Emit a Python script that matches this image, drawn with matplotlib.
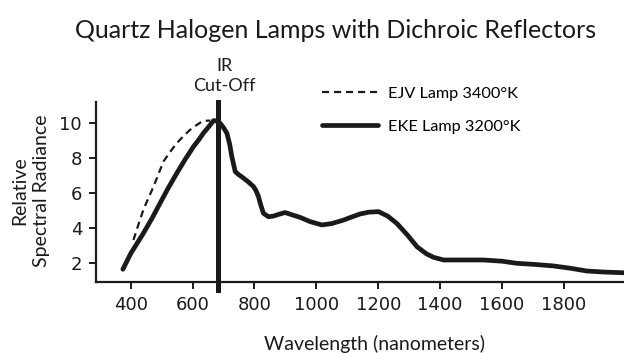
import matplotlib
matplotlib.use("Agg")
import matplotlib.pyplot as plt

plt.rcParams['font.family'] = ['Lato', 'DejaVu Sans']

# Spectral radiance curves (wavelength in nm, relative radiance)
eke_nm = [375, 400, 441, 470, 495, 520, 549, 575, 603, 620, 635, 657, 668, 680, 689,
          700, 711, 720, 727, 738, 750, 765, 780, 797, 805, 813, 820, 829, 845, 862,
          883, 899, 916, 948, 980, 1018, 1050, 1088, 1115, 1142, 1170, 1201, 1230,
          1260, 1295, 1325, 1355, 1379, 1411, 1480, 1540, 1600, 1648, 1710, 1766,
          1820, 1874, 1930, 1995]
eke_val = [1.66, 2.55, 3.71, 4.6, 5.43, 6.25, 7.14, 7.9, 8.66, 9.05, 9.43, 9.9, 10.15,
           10.12, 10.0, 9.75, 9.43, 8.8, 8.09, 7.23, 7.05, 6.86, 6.65, 6.38, 6.15,
           5.81, 5.35, 4.86, 4.66, 4.7, 4.82, 4.9, 4.8, 4.62, 4.38, 4.19, 4.27, 4.47,
           4.65, 4.82, 4.92, 4.95, 4.7, 4.28, 3.6, 2.95, 2.55, 2.34, 2.19, 2.19,
           2.19, 2.12, 2.0, 1.93, 1.85, 1.72, 1.56, 1.5, 1.46]

ejv_nm = [409, 425, 441, 458, 474, 490, 506, 527, 549, 570, 592, 612, 630, 645, 657]
ejv_val = [3.33, 4.2, 5.05, 5.75, 6.38, 7.1, 7.81, 8.35, 8.86, 9.25, 9.62, 9.88,
           10.09, 10.14, 10.15]

ir_cutoff_nm = 682

x_ticks = [400, 600, 800, 1000, 1200, 1400, 1600, 1800]
y_ticks = [2, 4, 6, 8, 10]

ink = '#1a1a1a'

fig = plt.figure(figsize=(6.24, 3.53), dpi=100)
ax = fig.add_axes([0.1538, 0.202, 0.8462, 0.510])

ax.plot(ejv_nm, ejv_val, color=ink, lw=1.6, ls=(0, (3.2, 2.2)),
        label='EJV Lamp 3400°K')
ax.plot(eke_nm, eke_val, color=ink, lw=3.4, solid_joinstyle='round',
        solid_capstyle='round', label='EKE Lamp 3200°K')
ax.axvline(ir_cutoff_nm, ymin=-0.046, ymax=1.0, color=ink, lw=3.6, clip_on=False)

ax.set_xlim(288, 1994)
ax.set_ylim(0.95, 11.23)
ax.set_xticks(x_ticks)
ax.set_yticks(y_ticks)

for side in ('top', 'right'):
    ax.spines[side].set_visible(False)
for side in ('left', 'bottom'):
    ax.spines[side].set_linewidth(1.6)
    ax.spines[side].set_color(ink)
ax.tick_params(direction='out', length=5, width=1.4, colors=ink, pad=5)
for lab in ax.get_xticklabels() + ax.get_yticklabels():
    lab.set_fontfamily(['DejaVu Sans'])
    lab.set_fontsize(13)

fig.text(0.538, 0.915, 'Quartz Halogen Lamps with Dichroic Reflectors',
         ha='center', va='center', fontsize=18, color=ink)
fig.text(224 / 624, 1 - 76 / 353, 'IR\nCut-Off', ha='center', va='center',
         fontsize=13, color=ink, linespacing=1.3)
fig.text(30.5 / 624, 1 - 191 / 353, 'Relative\nSpectral Radiance', rotation=90,
         ha='center', va='center', fontsize=14, color=ink, linespacing=1.3,
         multialignment='center')
fig.text(374.5 / 624, 1 - 344 / 353, 'Wavelength (nanometers)', ha='center',
         va='center', fontsize=14, color=ink)

ax.legend(loc='center left', bbox_to_anchor=(321.7 / 624, 1 - 110.3 / 353),
          bbox_transform=fig.transFigure, frameon=False, fontsize=11.7,
          handlelength=3.45, handletextpad=0.6, borderpad=0, borderaxespad=0,
          labelspacing=1.15)

fig.savefig('out.png', dpi=100)
